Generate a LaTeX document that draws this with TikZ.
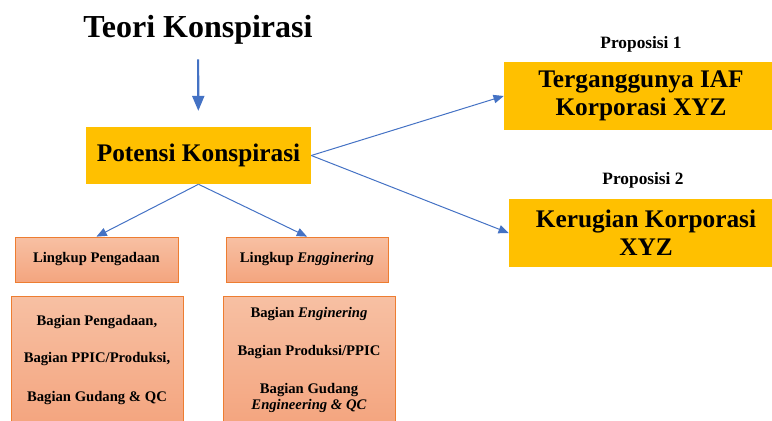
\documentclass[tikz,border=0pt]{standalone}
\usepackage{fontspec}
\setmainfont{Liberation Serif}
\usepackage{tikz}
\usetikzlibrary{arrows}

\definecolor{gold}{HTML}{FFC000}
\definecolor{lineblue}{HTML}{4472C4}
\definecolor{rimorange}{HTML}{ED7D31}
\definecolor{salmontop}{HTML}{F7C0A3}
\definecolor{salmonbot}{HTML}{F4A57F}

\begin{document}
\begin{tikzpicture}[x=0.75pt,y=-0.75pt,
	goldbox/.style={fill=gold,inner sep=0pt,align=center,font=\fontsize{19}{21}\selectfont\bfseries},
	pinkbox/.style={draw=rimorange,line width=0.6pt,top color=salmontop,bottom color=salmonbot,inner sep=0pt,align=center},
	thin/.style={draw=lineblue,line width=0.75pt,-triangle 45}]
						\useasboundingbox (0,0) rectangle (772,421);
						\clip (0,0) rectangle (772,421);
						\node[inner sep=0pt,font=\fontsize{24}{28}\selectfont\bfseries] (t) at (198,30) {Teori Konspirasi};
						\node[goldbox,minimum width=168.75pt,minimum height=42.75pt] (p) at (198.5,155.5) {Potensi Konspirasi};
						\node[font=\fontsize{13}{15}\selectfont\bfseries] (p1) at (641,44) {Proposisi 1};
						\node[goldbox,minimum width=205.5pt,minimum height=51pt] (b1) at (641,96) {Terganggunya IAF\\Korporasi XYZ};
						\node[font=\fontsize{13}{15}\selectfont\bfseries] (p2) at (643,180) {Proposisi 2};
						\node[goldbox,minimum width=205.5pt,minimum height=51pt] (b2) at (646,233) {Kerugian Korporasi\\XYZ};
						\node[pinkbox,minimum width=122.25pt,minimum height=33.75pt,font=\fontsize{11}{13}\selectfont\bfseries] (l1) at (96.5,259.5) {Lingkup Pengadaan};
						\node[pinkbox,minimum width=121.5pt,minimum height=33.75pt,font=\fontsize{11}{13}\selectfont\bfseries] (l2) at (307,259.5) {Lingkup \textit{Engginering}};
						\node[pinkbox,minimum width=129pt,minimum height=96pt,font=\fontsize{11}{11.5}\selectfont\bfseries] (g1) at (97,360) {Bagian Pengadaan,\\[16.5pt]Bagian PPIC/Produksi,\\[17.5pt]Bagian Gudang \& QC};
						\node[pinkbox,minimum width=129pt,minimum height=96pt,font=\fontsize{11}{11.5}\selectfont\bfseries] (g2) at (309,360) {Bagian \textit{Enginering}\\[16.5pt]Bagian Produksi/PPIC\\[17.5pt]Bagian Gudang\\\textit{Engineering \& QC}};
						\draw[draw=lineblue,line width=1.6pt,-triangle 45,shorten <=11pt,shorten >=12pt] (t) to (p);
						\draw[thin] (p.east) to (b1.west);
						\draw[thin] (p.east) to (b2.west);
						\draw[thin] (p.south) to (l1.north);
						\draw[thin] (p.south) to (l2.north);
					\end{tikzpicture}
\end{document}
